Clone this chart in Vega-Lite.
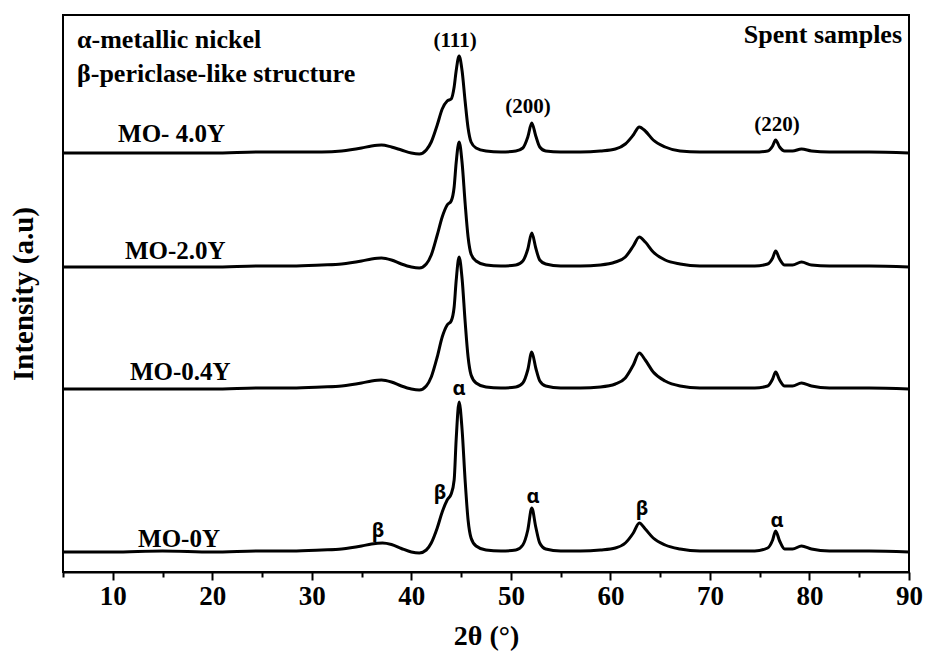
{
  "$schema": "https://vega.github.io/schema/vega-lite/v6.json",
  "width": 846,
  "height": 557,
  "autosize": {"type": "none"},
  "padding": {"left": 63, "top": 15, "right": 16, "bottom": 87},
  "background": "white",
  "config": {
    "view": {"stroke": "black", "strokeWidth": 2},
    "axis": {"domainColor": "black", "tickColor": "black", "labelColor": "black", "titleColor": "black", "grid": false}
  },
  "datasets": {
    "xrd": [
      {"s":"MO-0Y","x":5,"y":20},{"s":"MO-0Y","x":10,"y":20},{"s":"MO-0Y","x":15,"y":21},{"s":"MO-0Y","x":20,"y":20},{"s":"MO-0Y","x":25,"y":21},{"s":"MO-0Y","x":28,"y":21},{"s":"MO-0Y","x":31,"y":22},{"s":"MO-0Y","x":33,"y":23},{"s":"MO-0Y","x":35,"y":26},{"s":"MO-0Y","x":36,"y":28},{"s":"MO-0Y","x":37.1,"y":29},{"s":"MO-0Y","x":38,"y":27.5},{"s":"MO-0Y","x":39,"y":23.5},{"s":"MO-0Y","x":40,"y":20},{"s":"MO-0Y","x":40.8,"y":19},{"s":"MO-0Y","x":41.5,"y":22},{"s":"MO-0Y","x":42,"y":29},{"s":"MO-0Y","x":42.6,"y":44},{"s":"MO-0Y","x":43.1,"y":60},{"s":"MO-0Y","x":43.6,"y":72},{"s":"MO-0Y","x":44.0,"y":78},{"s":"MO-0Y","x":44.3,"y":92},{"s":"MO-0Y","x":44.5,"y":132},{"s":"MO-0Y","x":44.8,"y":170},{"s":"MO-0Y","x":45.1,"y":142},{"s":"MO-0Y","x":45.4,"y":92},{"s":"MO-0Y","x":45.7,"y":52},{"s":"MO-0Y","x":46.0,"y":34},{"s":"MO-0Y","x":46.5,"y":26},{"s":"MO-0Y","x":47.5,"y":22},{"s":"MO-0Y","x":49,"y":21},{"s":"MO-0Y","x":50.5,"y":22},{"s":"MO-0Y","x":51.2,"y":27},{"s":"MO-0Y","x":51.7,"y":42},{"s":"MO-0Y","x":52.1,"y":64},{"s":"MO-0Y","x":52.5,"y":45},{"s":"MO-0Y","x":52.9,"y":29},{"s":"MO-0Y","x":53.5,"y":23},{"s":"MO-0Y","x":55,"y":21},{"s":"MO-0Y","x":57,"y":21},{"s":"MO-0Y","x":59,"y":22},{"s":"MO-0Y","x":60.5,"y":24},{"s":"MO-0Y","x":61.5,"y":29},{"s":"MO-0Y","x":62.3,"y":39},{"s":"MO-0Y","x":62.9,"y":49},{"s":"MO-0Y","x":63.5,"y":43},{"s":"MO-0Y","x":64.3,"y":34},{"s":"MO-0Y","x":65.5,"y":27},{"s":"MO-0Y","x":67,"y":23},{"s":"MO-0Y","x":69,"y":21},{"s":"MO-0Y","x":72,"y":21},{"s":"MO-0Y","x":74.5,"y":21},{"s":"MO-0Y","x":75.8,"y":24},{"s":"MO-0Y","x":76.3,"y":32},{"s":"MO-0Y","x":76.6,"y":41},{"s":"MO-0Y","x":77.0,"y":31},{"s":"MO-0Y","x":77.5,"y":23},{"s":"MO-0Y","x":78.3,"y":23},{"s":"MO-0Y","x":79.2,"y":26},{"s":"MO-0Y","x":80.2,"y":23},{"s":"MO-0Y","x":82,"y":21},{"s":"MO-0Y","x":86,"y":21},{"s":"MO-0Y","x":90,"y":20},

      {"s":"MO-0.4Y","x":5,"y":183},{"s":"MO-0.4Y","x":10,"y":183},{"s":"MO-0.4Y","x":15,"y":183},{"s":"MO-0.4Y","x":20,"y":183},{"s":"MO-0.4Y","x":25,"y":184},{"s":"MO-0.4Y","x":28,"y":184},{"s":"MO-0.4Y","x":31,"y":185},{"s":"MO-0.4Y","x":33,"y":186},{"s":"MO-0.4Y","x":35,"y":189},{"s":"MO-0.4Y","x":36,"y":191},{"s":"MO-0.4Y","x":37,"y":192},{"s":"MO-0.4Y","x":38,"y":190},{"s":"MO-0.4Y","x":39,"y":186},{"s":"MO-0.4Y","x":40,"y":183},{"s":"MO-0.4Y","x":40.8,"y":182},{"s":"MO-0.4Y","x":41.5,"y":186},{"s":"MO-0.4Y","x":42,"y":195},{"s":"MO-0.4Y","x":42.6,"y":215},{"s":"MO-0.4Y","x":43.1,"y":235},{"s":"MO-0.4Y","x":43.6,"y":247},{"s":"MO-0.4Y","x":44.0,"y":251},{"s":"MO-0.4Y","x":44.3,"y":265},{"s":"MO-0.4Y","x":44.5,"y":291},{"s":"MO-0.4Y","x":44.8,"y":315},{"s":"MO-0.4Y","x":45.1,"y":293},{"s":"MO-0.4Y","x":45.4,"y":251},{"s":"MO-0.4Y","x":45.7,"y":215},{"s":"MO-0.4Y","x":46.0,"y":197},{"s":"MO-0.4Y","x":46.5,"y":189},{"s":"MO-0.4Y","x":47.5,"y":185},{"s":"MO-0.4Y","x":49,"y":184},{"s":"MO-0.4Y","x":50.5,"y":185},{"s":"MO-0.4Y","x":51.2,"y":189},{"s":"MO-0.4Y","x":51.7,"y":202},{"s":"MO-0.4Y","x":52.1,"y":220},{"s":"MO-0.4Y","x":52.5,"y":204},{"s":"MO-0.4Y","x":52.9,"y":191},{"s":"MO-0.4Y","x":53.5,"y":186},{"s":"MO-0.4Y","x":55,"y":184},{"s":"MO-0.4Y","x":57,"y":184},{"s":"MO-0.4Y","x":59,"y":185},{"s":"MO-0.4Y","x":60.5,"y":188},{"s":"MO-0.4Y","x":61.5,"y":194},{"s":"MO-0.4Y","x":62.3,"y":207},{"s":"MO-0.4Y","x":62.9,"y":219},{"s":"MO-0.4Y","x":63.5,"y":212},{"s":"MO-0.4Y","x":64.3,"y":200},{"s":"MO-0.4Y","x":65.5,"y":191},{"s":"MO-0.4Y","x":67,"y":186},{"s":"MO-0.4Y","x":69,"y":184},{"s":"MO-0.4Y","x":72,"y":184},{"s":"MO-0.4Y","x":74.5,"y":184},{"s":"MO-0.4Y","x":75.8,"y":186},{"s":"MO-0.4Y","x":76.3,"y":193},{"s":"MO-0.4Y","x":76.6,"y":200},{"s":"MO-0.4Y","x":77.0,"y":192},{"s":"MO-0.4Y","x":77.5,"y":186},{"s":"MO-0.4Y","x":78.3,"y":186},{"s":"MO-0.4Y","x":79.2,"y":189},{"s":"MO-0.4Y","x":80.2,"y":186},{"s":"MO-0.4Y","x":82,"y":184},{"s":"MO-0.4Y","x":86,"y":184},{"s":"MO-0.4Y","x":90,"y":183},

      {"s":"MO-2.0Y","x":5,"y":305},{"s":"MO-2.0Y","x":10,"y":305},{"s":"MO-2.0Y","x":15,"y":305},{"s":"MO-2.0Y","x":20,"y":305},{"s":"MO-2.0Y","x":25,"y":306},{"s":"MO-2.0Y","x":28,"y":306},{"s":"MO-2.0Y","x":31,"y":307},{"s":"MO-2.0Y","x":33,"y":308},{"s":"MO-2.0Y","x":35,"y":311},{"s":"MO-2.0Y","x":36,"y":313},{"s":"MO-2.0Y","x":37,"y":314},{"s":"MO-2.0Y","x":38,"y":312},{"s":"MO-2.0Y","x":39,"y":308},{"s":"MO-2.0Y","x":40,"y":305},{"s":"MO-2.0Y","x":40.8,"y":304},{"s":"MO-2.0Y","x":41.5,"y":308},{"s":"MO-2.0Y","x":42,"y":317},{"s":"MO-2.0Y","x":42.6,"y":337},{"s":"MO-2.0Y","x":43.1,"y":355},{"s":"MO-2.0Y","x":43.6,"y":367},{"s":"MO-2.0Y","x":44.0,"y":371},{"s":"MO-2.0Y","x":44.3,"y":385},{"s":"MO-2.0Y","x":44.5,"y":409},{"s":"MO-2.0Y","x":44.8,"y":430},{"s":"MO-2.0Y","x":45.1,"y":409},{"s":"MO-2.0Y","x":45.4,"y":369},{"s":"MO-2.0Y","x":45.7,"y":335},{"s":"MO-2.0Y","x":46.0,"y":318},{"s":"MO-2.0Y","x":46.5,"y":311},{"s":"MO-2.0Y","x":47.5,"y":307},{"s":"MO-2.0Y","x":49,"y":306},{"s":"MO-2.0Y","x":50.5,"y":307},{"s":"MO-2.0Y","x":51.2,"y":311},{"s":"MO-2.0Y","x":51.7,"y":323},{"s":"MO-2.0Y","x":52.1,"y":339},{"s":"MO-2.0Y","x":52.5,"y":324},{"s":"MO-2.0Y","x":52.9,"y":312},{"s":"MO-2.0Y","x":53.5,"y":308},{"s":"MO-2.0Y","x":55,"y":306},{"s":"MO-2.0Y","x":57,"y":306},{"s":"MO-2.0Y","x":59,"y":307},{"s":"MO-2.0Y","x":60.5,"y":310},{"s":"MO-2.0Y","x":61.5,"y":315},{"s":"MO-2.0Y","x":62.3,"y":326},{"s":"MO-2.0Y","x":62.9,"y":335},{"s":"MO-2.0Y","x":63.5,"y":330},{"s":"MO-2.0Y","x":64.3,"y":320},{"s":"MO-2.0Y","x":65.5,"y":312},{"s":"MO-2.0Y","x":67,"y":308},{"s":"MO-2.0Y","x":69,"y":306},{"s":"MO-2.0Y","x":72,"y":306},{"s":"MO-2.0Y","x":74.5,"y":306},{"s":"MO-2.0Y","x":75.8,"y":308},{"s":"MO-2.0Y","x":76.3,"y":314},{"s":"MO-2.0Y","x":76.6,"y":321},{"s":"MO-2.0Y","x":77.0,"y":313},{"s":"MO-2.0Y","x":77.5,"y":307},{"s":"MO-2.0Y","x":78.3,"y":307},{"s":"MO-2.0Y","x":79.2,"y":310},{"s":"MO-2.0Y","x":80.2,"y":307},{"s":"MO-2.0Y","x":82,"y":306},{"s":"MO-2.0Y","x":86,"y":306},{"s":"MO-2.0Y","x":90,"y":305},

      {"s":"MO-4.0Y","x":5,"y":419},{"s":"MO-4.0Y","x":10,"y":419},{"s":"MO-4.0Y","x":15,"y":419},{"s":"MO-4.0Y","x":20,"y":419},{"s":"MO-4.0Y","x":25,"y":420},{"s":"MO-4.0Y","x":28,"y":420},{"s":"MO-4.0Y","x":31,"y":420},{"s":"MO-4.0Y","x":33,"y":421},{"s":"MO-4.0Y","x":35,"y":424},{"s":"MO-4.0Y","x":36,"y":426},{"s":"MO-4.0Y","x":37,"y":427},{"s":"MO-4.0Y","x":38,"y":425},{"s":"MO-4.0Y","x":39,"y":422},{"s":"MO-4.0Y","x":40,"y":419},{"s":"MO-4.0Y","x":40.8,"y":418},{"s":"MO-4.0Y","x":41.5,"y":422},{"s":"MO-4.0Y","x":42,"y":430},{"s":"MO-4.0Y","x":42.6,"y":447},{"s":"MO-4.0Y","x":43.1,"y":463},{"s":"MO-4.0Y","x":43.6,"y":471},{"s":"MO-4.0Y","x":44.0,"y":473},{"s":"MO-4.0Y","x":44.3,"y":485},{"s":"MO-4.0Y","x":44.5,"y":501},{"s":"MO-4.0Y","x":44.8,"y":516},{"s":"MO-4.0Y","x":45.1,"y":501},{"s":"MO-4.0Y","x":45.4,"y":471},{"s":"MO-4.0Y","x":45.7,"y":444},{"s":"MO-4.0Y","x":46.0,"y":430},{"s":"MO-4.0Y","x":46.5,"y":424},{"s":"MO-4.0Y","x":47.5,"y":421},{"s":"MO-4.0Y","x":49,"y":420},{"s":"MO-4.0Y","x":50.5,"y":421},{"s":"MO-4.0Y","x":51.2,"y":424},{"s":"MO-4.0Y","x":51.7,"y":435},{"s":"MO-4.0Y","x":52.1,"y":449},{"s":"MO-4.0Y","x":52.5,"y":436},{"s":"MO-4.0Y","x":52.9,"y":425},{"s":"MO-4.0Y","x":53.5,"y":421},{"s":"MO-4.0Y","x":55,"y":420},{"s":"MO-4.0Y","x":57,"y":420},{"s":"MO-4.0Y","x":59,"y":421},{"s":"MO-4.0Y","x":60.5,"y":423},{"s":"MO-4.0Y","x":61.5,"y":428},{"s":"MO-4.0Y","x":62.3,"y":437},{"s":"MO-4.0Y","x":62.9,"y":445},{"s":"MO-4.0Y","x":63.5,"y":441},{"s":"MO-4.0Y","x":64.3,"y":432},{"s":"MO-4.0Y","x":65.5,"y":425},{"s":"MO-4.0Y","x":67,"y":421},{"s":"MO-4.0Y","x":69,"y":420},{"s":"MO-4.0Y","x":72,"y":420},{"s":"MO-4.0Y","x":74.5,"y":420},{"s":"MO-4.0Y","x":75.8,"y":421},{"s":"MO-4.0Y","x":76.3,"y":426},{"s":"MO-4.0Y","x":76.6,"y":432},{"s":"MO-4.0Y","x":77.0,"y":425},{"s":"MO-4.0Y","x":77.5,"y":421},{"s":"MO-4.0Y","x":78.3,"y":421},{"s":"MO-4.0Y","x":79.2,"y":423},{"s":"MO-4.0Y","x":80.2,"y":421},{"s":"MO-4.0Y","x":82,"y":420},{"s":"MO-4.0Y","x":86,"y":420},{"s":"MO-4.0Y","x":90,"y":419}
    ],
    "ann": [
      {"t":"α-metallic nickel","x":6.41,"y":524,"g":"leg"},
      {"t":"β-periclase-like structure","x":6.41,"y":490,"g":"leg"},
      {"t":"Spent samples","x":89.3,"y":529,"g":"spent"},
      {"t":"MO- 4.0Y","x":10.53,"y":430,"g":"mo"},
      {"t":"MO-2.0Y","x":11.23,"y":313,"g":"mo"},
      {"t":"MO-0.4Y","x":11.73,"y":192,"g":"mo"},
      {"t":"MO-0Y","x":12.54,"y":25,"g":"mo"},
      {"t":"(111)","x":44.39,"y":525,"g":"hkl"},
      {"t":"(200)","x":51.72,"y":459,"g":"hkl"},
      {"t":"(220)","x":76.74,"y":441,"g":"hkl"},
      {"t":"β","x":36.65,"y":41,"g":"gr"},
      {"t":"β","x":42.88,"y":79,"g":"gr"},
      {"t":"α","x":44.79,"y":183,"g":"gr"},
      {"t":"α","x":52.22,"y":75,"g":"gr"},
      {"t":"β","x":63.17,"y":63,"g":"gr"},
      {"t":"α","x":76.74,"y":51,"g":"gr"}
    ]
  },
  "layer": [
    {
      "data": {"name": "xrd"},
      "mark": {"type": "line", "color": "black", "strokeWidth": 3, "strokeJoin": "round", "interpolate": "monotone"},
      "encoding": {
        "x": {"field": "x", "type": "quantitative",
              "scale": {"domain": [5, 90], "nice": false, "zero": false},
              "axis": {"orient": "bottom", "values": [10, 20, 30, 40, 50, 60, 70, 80, 90], "tickSize": 8, "tickWidth": 2, "domainWidth": 2,
                       "labelFont": "Liberation Serif", "labelFontWeight": "bold", "labelFontSize": 27, "labelPadding": 3,
                       "labelFlush": false, "labelOverlap": false,
                       "title": "2θ (°)", "titleFont": "Liberation Serif", "titleFontWeight": "bold", "titleFontSize": 28, "titlePadding": 13}},
        "y": {"field": "y", "type": "quantitative",
              "scale": {"domain": [0, 557], "nice": false, "zero": false},
              "axis": {"labels": false, "ticks": false, "domain": false, "grid": false,
                       "title": "Intensity (a.u)", "titleFont": "Liberation Serif", "titleFontWeight": "bold", "titleFontSize": 29, "titlePadding": 25}},
        "detail": {"field": "s"}
      }
    },
    {
      "data": {"name": "ann"},
      "transform": [{"filter": "datum.g === 'leg'"}],
      "mark": {"type": "text", "align": "left", "baseline": "alphabetic", "font": "Liberation Serif", "fontWeight": "bold", "fontSize": 26, "color": "black"},
      "encoding": {
        "x": {"field": "x", "type": "quantitative", "axis": {"orient": "bottom", "values": [5, 15, 25, 35, 45, 55, 65, 75, 85], "labels": false, "domain": false, "tickSize": 5, "tickWidth": 2, "title": null}},
        "y": {"field": "y", "type": "quantitative", "axis": null},
        "text": {"field": "t"}
      }
    },
    {
      "data": {"name": "ann"},
      "transform": [{"filter": "datum.g === 'spent'"}],
      "mark": {"type": "text", "align": "right", "baseline": "alphabetic", "font": "Liberation Serif", "fontWeight": "bold", "fontSize": 26, "color": "black"},
      "encoding": {
        "x": {"field": "x", "type": "quantitative", "axis": null},
        "y": {"field": "y", "type": "quantitative", "axis": null},
        "text": {"field": "t"}
      }
    },
    {
      "data": {"name": "ann"},
      "transform": [{"filter": "datum.g === 'mo'"}],
      "mark": {"type": "text", "align": "left", "baseline": "alphabetic", "font": "Liberation Serif", "fontWeight": "bold", "fontSize": 25, "color": "black"},
      "encoding": {
        "x": {"field": "x", "type": "quantitative", "axis": null},
        "y": {"field": "y", "type": "quantitative", "axis": null},
        "text": {"field": "t"}
      }
    },
    {
      "data": {"name": "ann"},
      "transform": [{"filter": "datum.g === 'hkl'"}],
      "mark": {"type": "text", "align": "center", "baseline": "alphabetic", "font": "Liberation Serif", "fontWeight": "bold", "fontSize": 21, "color": "black"},
      "encoding": {
        "x": {"field": "x", "type": "quantitative", "axis": null},
        "y": {"field": "y", "type": "quantitative", "axis": null},
        "text": {"field": "t"}
      }
    },
    {
      "data": {"name": "ann"},
      "transform": [{"filter": "datum.g === 'gr'"}],
      "mark": {"type": "text", "align": "center", "baseline": "middle", "font": "Noto Sans", "fontWeight": "bold", "fontSize": 20, "color": "black"},
      "encoding": {
        "x": {"field": "x", "type": "quantitative", "axis": null},
        "y": {"field": "y", "type": "quantitative", "axis": null},
        "text": {"field": "t"}
      }
    }
  ],
  "resolve": {"axis": {"x": "independent", "y": "independent"}}
}
